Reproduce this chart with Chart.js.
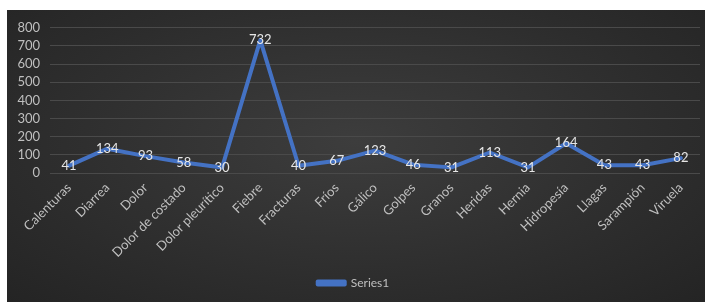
<!DOCTYPE html>
<html>
<head>
<meta charset="utf-8">
<script src="https://cdn.jsdelivr.net/npm/chart.js@4.4.1/dist/chart.umd.min.js"></script>
<style>
  html, body { margin: 0; padding: 0; background: #ffffff; }
  #wrap {
    position: absolute; left: 7px; top: 10px; width: 698px; height: 292px;
    background: radial-gradient(ellipse at 50% 45%, #3d3d3d 0%, #2f2f2f 55%, #242424 100%);
  }
  canvas { display: block; }
</style>
</head>
<body>
<div id="wrap"><canvas id="c" width="698" height="292"></canvas></div>
<script>
const categories = ["Calenturas", "Diarrea", "Dolor", "Dolor de costado", "Dolor pleurítico", "Fiebre", "Fracturas", "Fríos", "Gálico", "Golpes", "Granos", "Heridas", "Hernia", "Hidropesía", "Llagas", "Sarampión", "Viruela"];
const series1 = [41, 134, 93, 58, 30, 732, 40, 67, 123, 46, 31, 113, 31, 164, 43, 43, 82];
const yTicks = [0, 100, 200, 300, 400, 500, 600, 700, 800];
const seriesName = "Series1";

const FONT = "Lato, 'Open Sans', 'Liberation Sans', sans-serif";

const labelPlugin = {
  id: 'pointLabels',
  afterDatasetsDraw(chart) {
    const ctx = chart.ctx;
    ctx.save();
    ctx.font = "13px " + FONT;
    ctx.fillStyle = "#e6e6e6";
    ctx.textAlign = "center";
    ctx.textBaseline = "middle";
    chart.data.datasets.forEach((ds, i) => {
      const meta = chart.getDatasetMeta(i);
      meta.data.forEach((pt, j) => {
        ctx.fillText(String(ds.data[j]), pt.x, pt.y);
      });
    });
    ctx.restore();
  }
};

new Chart(document.getElementById('c'), {
  type: 'line',
  data: {
    labels: categories,
    datasets: [{
      label: seriesName,
      data: series1,
      borderColor: '#4472C4',
      backgroundColor: '#4472C4',
      borderWidth: 4,
      pointRadius: 0,
      tension: 0,
      borderJoinStyle: 'round',
      borderCapStyle: 'round'
    }]
  },
  options: {
    responsive: false,
    animation: false,
    devicePixelRatio: 1,
    layout: { padding: { top: 10, right: 5, left: 0, bottom: 3 } },
    scales: {
      x: {
        offset: true,
        afterFit(axis) { axis.height = 96; },
        grid: { display: false, drawTicks: false },
        border: { display: false },
        ticks: {
          color: '#bfbfbf',
          font: { size: 13, family: FONT },
          minRotation: 45, maxRotation: 45,
          autoSkip: false,
          padding: 7
        }
      },
      y: {
        min: 0, max: 800,
        afterBuildTicks(axis) { axis.ticks = yTicks.map(v => ({ value: v })); },
        afterFit(axis) { axis.width = 43; },
        grid: { color: '#4a4a4a', lineWidth: 1, drawTicks: false },
        border: { display: false },
        ticks: {
          color: '#bfbfbf',
          font: { size: 13, family: FONT },
          padding: 10,
          autoSkip: false
        }
      }
    },
    plugins: {
      legend: {
        position: 'bottom',
        labels: {
          color: '#bfbfbf',
          font: { size: 12, family: FONT },
          boxWidth: 27,
          boxHeight: 3,
          padding: 8
        }
      },
      tooltip: { enabled: false }
    }
  },
  plugins: [labelPlugin]
});
</script>
</body>
</html>
